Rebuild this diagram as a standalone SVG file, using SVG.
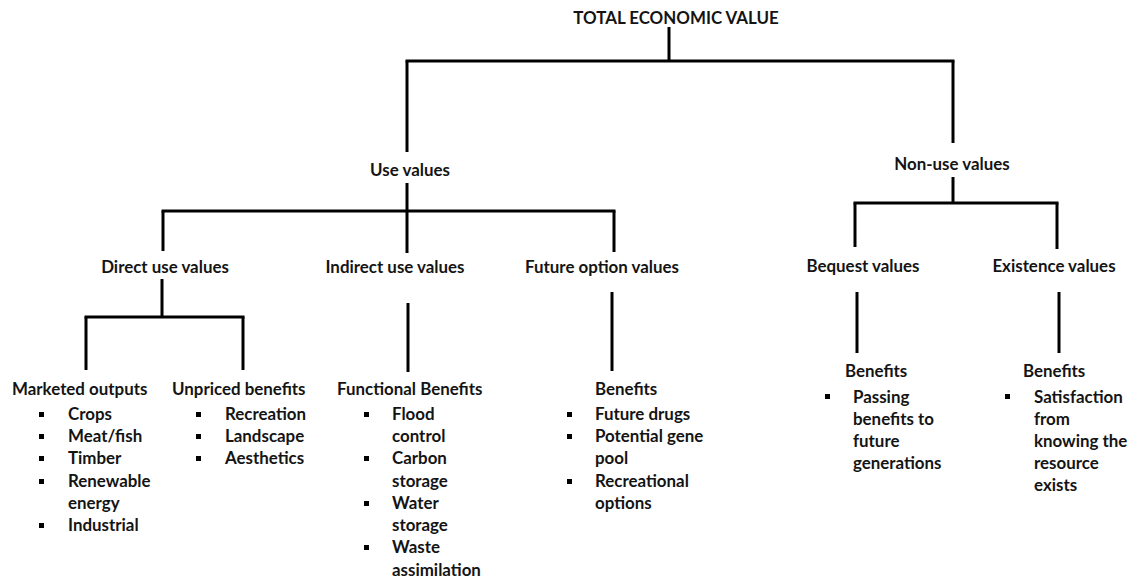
<svg xmlns="http://www.w3.org/2000/svg" xmlns:xlink="http://www.w3.org/1999/xlink" width="1130" height="578" viewBox="0 0 1130 578">
<style>
text{font-family:Lato,"Open Sans","Liberation Sans",sans-serif;font-weight:700;font-size:16.9px;fill:#141414}
.m{text-anchor:middle}
.c line{stroke:#000;stroke-width:3;stroke-linecap:butt}
</style>
<defs><rect id="b" width="5" height="5" fill="#000"/></defs>
<rect width="1130" height="578" fill="#fff"/>
<g class="c" id="connectors">
<line x1="669" y1="27" x2="669" y2="61"/>
<line x1="405.5" y1="61" x2="954.5" y2="61"/>
<line x1="407" y1="61" x2="407" y2="152"/>
<line x1="953" y1="61" x2="953" y2="143"/>
<line x1="407" y1="183" x2="407" y2="253"/>
<line x1="161.5" y1="211" x2="615.5" y2="211"/>
<line x1="163" y1="211" x2="163" y2="251"/>
<line x1="614" y1="211" x2="614" y2="252"/>
<line x1="162" y1="279" x2="162" y2="317"/>
<line x1="84.5" y1="317" x2="244.5" y2="317"/>
<line x1="86" y1="317" x2="86" y2="370"/>
<line x1="243" y1="317" x2="243" y2="370"/>
<line x1="408" y1="303" x2="408" y2="372"/>
<line x1="612" y1="292" x2="612" y2="371"/>
<line x1="953" y1="177" x2="953" y2="203"/>
<line x1="853.5" y1="203" x2="1058.5" y2="203"/>
<line x1="855" y1="203" x2="855" y2="247"/>
<line x1="1057" y1="203" x2="1057" y2="249"/>
<line x1="857" y1="292" x2="857" y2="353"/>
<line x1="1059" y1="292" x2="1059" y2="353"/>
</g>
<g id="total"><text class="m" x="676" y="24">TOTAL ECONOMIC VALUE</text></g>
<g id="use"><text class="m" x="410" y="176">Use values</text></g>
<g id="nonuse"><text class="m" x="952" y="170">Non-use values</text></g>
<g id="direct"><text class="m" x="165" y="273">Direct use values</text></g>
<g id="indirect"><text class="m" x="395" y="273">Indirect use values</text></g>
<g id="future"><text class="m" x="602" y="273">Future option values</text></g>
<g id="bequest"><text class="m" x="863" y="272">Bequest values</text></g>
<g id="existence"><text class="m" x="1054" y="272">Existence values</text></g>
<g id="marketed">
<text x="12" y="395">Marketed outputs</text>
<use xlink:href="#b" x="39" y="412"/><text x="68" y="420">Crops</text>
<use xlink:href="#b" x="39" y="434"/><text x="68" y="442">Meat/fish</text>
<use xlink:href="#b" x="39" y="456"/><text x="68" y="464">Timber</text>
<use xlink:href="#b" x="39" y="479"/><text x="68" y="487">Renewable</text>
<text x="68" y="509">energy</text>
<use xlink:href="#b" x="39" y="523"/><text x="68" y="531">Industrial</text>
</g>
<g id="unpriced">
<text x="172" y="395">Unpriced benefits</text>
<use xlink:href="#b" x="196" y="412"/><text x="225" y="420">Recreation</text>
<use xlink:href="#b" x="196" y="434"/><text x="225" y="442">Landscape</text>
<use xlink:href="#b" x="196" y="456"/><text x="225" y="464">Aesthetics</text>
</g>
<g id="functional">
<text x="337" y="395">Functional Benefits</text>
<use xlink:href="#b" x="364" y="412"/><text x="392" y="420">Flood</text>
<text x="392" y="442">control</text>
<use xlink:href="#b" x="364" y="456"/><text x="392" y="464">Carbon</text>
<text x="392" y="487">storage</text>
<use xlink:href="#b" x="364" y="501"/><text x="392" y="509">Water</text>
<text x="392" y="531">storage</text>
<use xlink:href="#b" x="364" y="545"/><text x="392" y="553">Waste</text>
<text x="392" y="576">assimilation</text>
</g>
<g id="option-benefits">
<text x="595" y="395">Benefits</text>
<use xlink:href="#b" x="567" y="412"/><text x="595" y="420">Future drugs</text>
<use xlink:href="#b" x="567" y="434"/><text x="595" y="442">Potential gene</text>
<text x="595" y="464">pool</text>
<use xlink:href="#b" x="567" y="479"/><text x="595" y="487">Recreational</text>
<text x="595" y="509">options</text>
</g>
<g id="bequest-benefits">
<text x="845" y="377">Benefits</text>
<use xlink:href="#b" x="825" y="394"/><text x="853" y="403">Passing</text>
<text x="853" y="425">benefits to</text>
<text x="853" y="447">future</text>
<text x="853" y="469">generations</text>
</g>
<g id="existence-benefits">
<text x="1023" y="377">Benefits</text>
<use xlink:href="#b" x="1005" y="394"/><text x="1034" y="403">Satisfaction</text>
<text x="1034" y="425">from</text>
<text x="1034" y="447">knowing the</text>
<text x="1034" y="469">resource</text>
<text x="1034" y="491">exists</text>
</g>
</svg>
